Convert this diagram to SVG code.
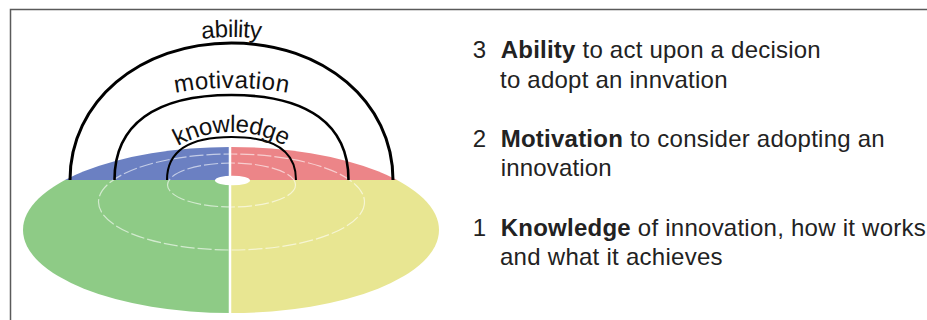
<svg xmlns="http://www.w3.org/2000/svg" width="927" height="320" viewBox="0 0 927 320">
  <style>
    .frame { fill: none; stroke: #5a5a5a; stroke-width: 1.5; }
    .arc { fill: none; stroke: #000; stroke-linecap: butt; }
    .ring { fill: none; stroke: #ffffff; stroke-width: 1.2; stroke-opacity: 0.6; stroke-dasharray: 14 3; }
    .arclabel { font-family: "Liberation Sans", Arial, Helvetica, sans-serif; font-size: 24px; fill: #111; }
    .legend { font-family: "Liberation Sans", Arial, Helvetica, sans-serif; font-size: 24px; fill: #222; }
    .b { font-weight: bold; }
  </style>
  <defs>
    <ellipse id="discShape" cx="231" cy="230" rx="208" ry="83"/>
    <clipPath id="cTL"><rect x="0" y="0" width="230" height="180"/></clipPath>
    <clipPath id="cTR"><rect x="230" y="0" width="300" height="180"/></clipPath>
    <clipPath id="cBL"><rect x="0" y="180" width="230" height="200"/></clipPath>
    <clipPath id="cBR"><rect x="230" y="180" width="300" height="200"/></clipPath>
    <path id="tpAbility" d="M 64,180 C 64,98.2 136,37 231.5,37 C 327,37 399,98.2 399,180"/>
    <path id="tpMotivation" d="M 105.5,180 C 105.5,114.9 143.3,88 231.5,88 C 319.7,88 357.5,114.9 357.5,180"/>
    <path id="tpKnowledge" d="M 131.5,197.6 A 109 109 0 0 1 331.5,197.6"/>
  </defs>

  <path class="frame" d="M 10.5,320 V 9.5 H 927"/>

  <g id="disc">
    <use href="#discShape" fill="#6b80c2" clip-path="url(#cTL)"/>
    <use href="#discShape" fill="#ec8588" clip-path="url(#cTR)"/>
    <use href="#discShape" fill="#8ecb86" clip-path="url(#cBL)"/>
    <use href="#discShape" fill="#e8e692" clip-path="url(#cBR)"/>
    <ellipse class="ring" cx="231.5" cy="202" rx="133" ry="48"/>
    <ellipse class="ring" cx="231.5" cy="185" rx="64" ry="22"/>
    <line x1="230" y1="146" x2="230" y2="314" stroke="#ffffff" stroke-width="2.5"/>
    <ellipse cx="232.5" cy="180.5" rx="17.5" ry="4.8" fill="#ffffff"/>
  </g>

  <g id="connectors"></g>

  <g id="ability">
    <path class="arc" stroke-width="3" d="M 70,180 C 70,101.9 139.4,43 231.5,43 C 323.6,43 393,101.9 393,180"/>
    <text class="arclabel"><textPath href="#tpAbility" startOffset="50%" text-anchor="middle" textLength="59">ability</textPath></text>
  </g>
  <g id="motivation">
    <path class="arc" stroke-width="2.6" d="M 114.5,180 C 114.5,124.8 155,95 231.5,95 C 308,95 348.5,124.8 348.5,180"/>
    <text class="arclabel"><textPath href="#tpMotivation" startOffset="50%" text-anchor="middle" textLength="113">motivation</textPath></text>
  </g>
  <g id="knowledge">
    <path class="arc" stroke-width="2" stroke="#222" d="M 167,180 C 167,151.6 188.9,137 231.5,137 C 274.1,137 296,151.6 296,180"/>
    <text class="arclabel"><textPath href="#tpKnowledge" startOffset="50%" text-anchor="middle" textLength="112">knowledge</textPath></text>
  </g>

  <g id="legend-3">
    <text class="legend" x="472.7" y="58.3">3</text>
    <text class="legend" x="500.7" y="58.3" textLength="320"><tspan class="b">Ability</tspan> to act upon a decision</text>
    <text class="legend" x="500" y="87.7" textLength="227.5">to adopt an innvation</text>
  </g>
  <g id="legend-2">
    <text class="legend" x="472.7" y="146.7">2</text>
    <text class="legend" x="500.7" y="146.7" textLength="384"><tspan class="b">Motivation</tspan> to consider adopting an</text>
    <text class="legend" x="500.7" y="176" textLength="111">innovation</text>
  </g>
  <g id="legend-1">
    <text class="legend" x="472.7" y="235.7">1</text>
    <text class="legend" x="500.7" y="235.7" textLength="425"><tspan class="b">Knowledge</tspan> of innovation, how it works</text>
    <text class="legend" x="500" y="265" textLength="222.5">and what it achieves</text>
  </g>
</svg>
